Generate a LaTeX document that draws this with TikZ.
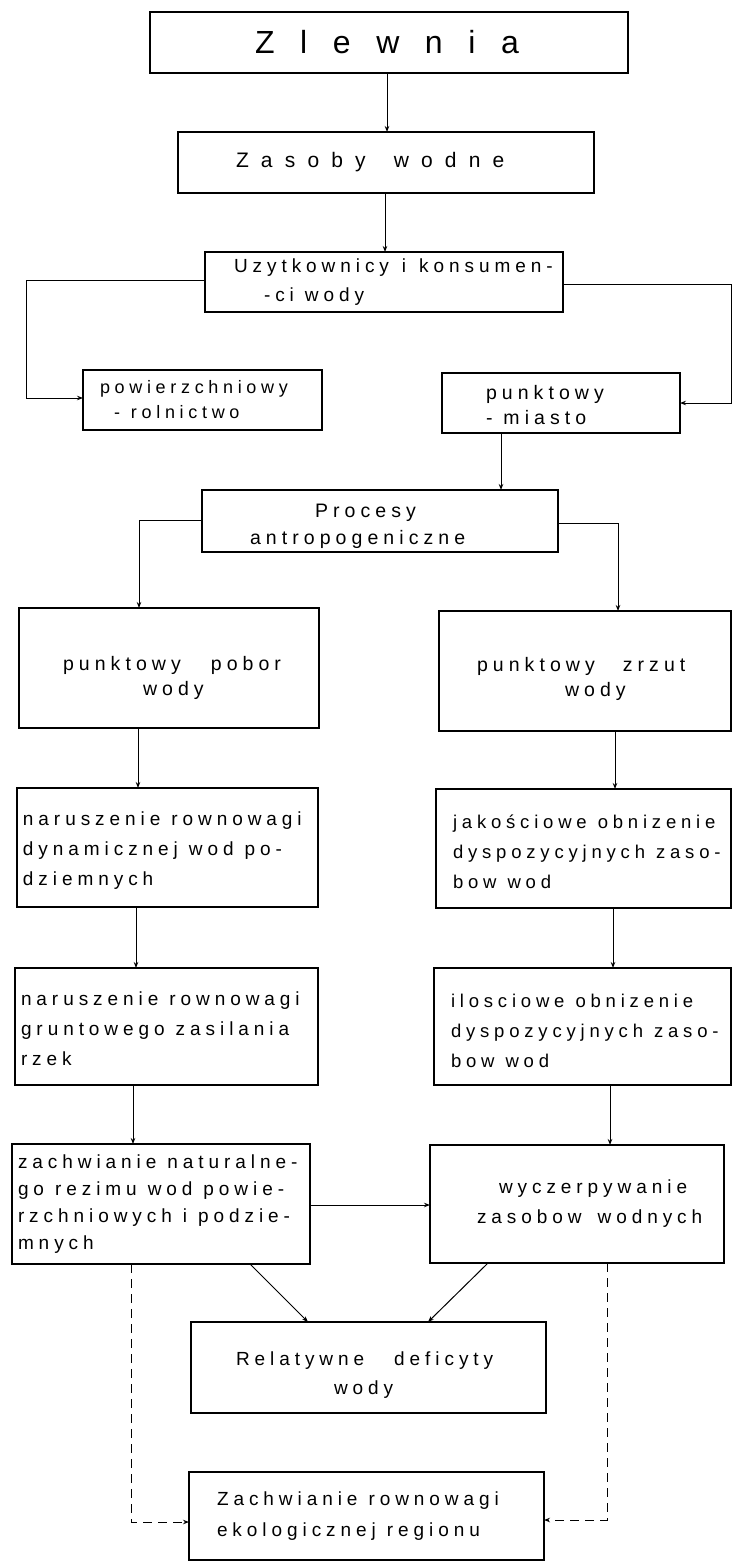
\documentclass[tikz,border=0pt]{standalone}
\usepackage{fontspec}
\setmainfont{Liberation Sans}
\newfontfamily\lsfont[LetterSpace=26]{Liberation Sans}
\newfontfamily\bigfont[LetterSpace=80]{Liberation Sans}
\newfontfamily\midfont[LetterSpace=58]{Liberation Sans}
\usetikzlibrary{arrows.meta}
\newcommand{\boxnode}[7][]{%
  \pgfmathsetmacro{\bcx}{(#3+#5)/2}%
  \pgfmathsetmacro{\bcy}{(#4+#6)/2}%
  \pgfmathsetmacro{\bbw}{#5-#3}%
  \pgfmathsetmacro{\bbh}{#6-#4}%
  \pgfmathsetmacro{\btw}{#5-#3-12}%
  \node[box,minimum width=\bbw pt,minimum height=\bbh pt,text width=\btw pt,#1] (#2) at (\bcx,\bcy) {#7};}
\newcommand{\bxline}[2]{\hspace*{#1pt}\mbox{#2}}
\newcommand{\ws}{\hspace*{11pt}}
\newcommand{\gap}[1]{\hspace*{#1pt}}
\newcommand{\tp}[1]{\rule{0pt}{#1pt}}
\tikzset{
  box/.style={draw=black,line width=2.2pt,inner sep=6pt,outer sep=0pt,align=left,
    font=\lsfont\fontsize{19}{29}\selectfont},
  conn/.style={line width=1pt,-{Stealth[length=6pt,width=4.5pt]}},
  dconn/.style={conn,dash pattern=on 9pt off 6pt},
}
\begin{document}
\begin{tikzpicture}[x=1pt,y=-1pt]
\fill[white] (0,0) rectangle (733,1562);
\useasboundingbox (0,0) rectangle (733,1562);

\boxnode[font=\bigfont\fontsize{32}{36}\selectfont]{z}{150}{12}{628}{73}{\bxline{99}{Zlewnia}}
\boxnode[font=\midfont\fontsize{21}{26}\selectfont]{zw}{178}{132}{594}{193}{\bxline{52}{Zasoby\gap{28}wodne}}
\boxnode{u}{205}{252}{563}{312}{\bxline{23}{Uzytkownicy\gap{13}i\gap{13}konsumen-}\\\bxline{53}{-ci\ws wody}}
\boxnode[font=\lsfont\fontsize{18}{25}\selectfont]{pw}{83}{370}{322}{430}{\bxline{11}{powierzchniowy}\\\bxline{25}{-\ws rolnictwo}}
\boxnode[font=\lsfont\fontsize{19.5}{25}\selectfont]{pk}{442}{373}{680}{433}{\bxline{38}{\tp{18}punktowy}\\\bxline{38}{-\ws miasto}}
\boxnode[font=\lsfont\fontsize{19.5}{27}\selectfont,inner ysep=1pt]{pr}{202}{490}{558}{552}{\bxline{107}{\tp{24}Procesy}\\\bxline{42}{antropogeniczne}}
\boxnode[font=\lsfont\fontsize{19.5}{25}\selectfont]{pp}{19}{608}{319}{728}{\bxline{38}{\tp{34}punktowy\gap{30}pobor}\\\bxline{118}{wody}}
\boxnode[font=\lsfont\fontsize{19.5}{25}\selectfont]{pz}{439}{611}{731}{731}{\bxline{32}{\tp{30}punktowy\gap{28}zrzut}\\\bxline{120}{wody}}
\boxnode[font=\lsfont\fontsize{19}{30}\selectfont]{n1}{17}{788}{318}{907}{\bxline{0}{\tp{20}naruszenie\ws rownowagi}\\\bxline{0}{dynamicznej\ws wod\ws po-}\\\bxline{0}{dziemnych}}
\boxnode[font=\lsfont\fontsize{18.5}{30}\selectfont]{j}{436}{789}{731}{908}{\bxline{11}{\tp{20}jakościowe\ws obnizenie}\\\bxline{11}{dyspozycyjnych\ws zaso-}\\\bxline{11}{bow\ws wod}}
\boxnode[font=\lsfont\fontsize{19}{30}\selectfont]{n2}{15}{968}{318}{1085}{\bxline{0}{\tp{18}naruszenie\ws rownowagi}\\\bxline{0}{gruntowego\ws zasilania}\\\bxline{0}{rzek}}
\boxnode[font=\lsfont\fontsize{18.5}{30}\selectfont]{i}{434}{968}{731}{1085}{\bxline{11}{\tp{22}ilosciowe\ws obnizenie}\\\bxline{11}{dyspozycyjnych\ws zaso-}\\\bxline{11}{bow\ws wod}}
\boxnode[font=\lsfont\fontsize{19}{27}\selectfont]{zn}{12}{1144}{310}{1264}{\bxline{0}{zachwianie\ws naturalne-}\\\bxline{0}{go\ws rezimu\ws wod\ws powie-}\\\bxline{0}{rzchniowych\ws i\ws podzie-}\\\bxline{0}{mnych}}
\boxnode[font=\lsfont\fontsize{19}{30}\selectfont]{w}{430}{1145}{724}{1263}{\bxline{63}{wyczerpywanie}\\\bxline{41}{zasobow\gap{16}wodnych}}
\boxnode{r}{191}{1322}{546}{1413}{\bxline{39}{\tp{28}Relatywne\gap{30}deficyty}\\\bxline{137}{wody}}
\boxnode[font=\lsfont\fontsize{19}{31}\selectfont]{zr}{189}{1472}{544}{1560}{\bxline{22}{Zachwianie\ws rownowagi}\\\bxline{22}{ekologicznej\ws regionu}}

\draw[conn] (z.south -| 387,0) -- (zw.north -| 387,0);
\draw[conn] (zw.south -| 385,0) -- (u.north -| 385,0);
\draw[conn] (u.west |- 0,280) -- (26,280) -- (26,398) -- (pw.west |- 0,398);
\draw[conn] (u.east |- 0,284) -- (731,284) -- (731,403) -- (pk.east |- 0,403);
\draw[conn] (pk.south -| 501,0) -- (pr.north -| 501,0);
\draw[conn] (pr.west |- 0,520) -- (139,520) -- (pp.north -| 139,0);
\draw[conn] (pr.east |- 0,523) -- (618,523) -- (pz.north -| 618,0);
\draw[conn] (pp.south -| 138,0) -- (n1.north -| 138,0);
\draw[conn] (pz.south -| 615,0) -- (j.north -| 615,0);
\draw[conn] (n1.south -| 136,0) -- (n2.north -| 136,0);
\draw[conn] (j.south -| 613,0) -- (i.north -| 613,0);
\draw[conn] (n2.south -| 133,0) -- (zn.north -| 133,0);
\draw[conn] (i.south -| 610,0) -- (w.north -| 610,0);
\draw[conn] (zn.east |- 0,1205) -- (w.west |- 0,1205);
\draw[conn] (zn.south -| 250,0) -- (r.north -| 308,0);
\draw[conn] (w.south -| 488,0) -- (r.north -| 428,0);
\draw[dconn] (zn.south -| 131,0) -- (131,1522) -- (zr.west |- 0,1522);
\draw[dconn] (w.south -| 607,0) -- (607,1520) -- (zr.east |- 0,1520);
\end{tikzpicture}
\end{document}
